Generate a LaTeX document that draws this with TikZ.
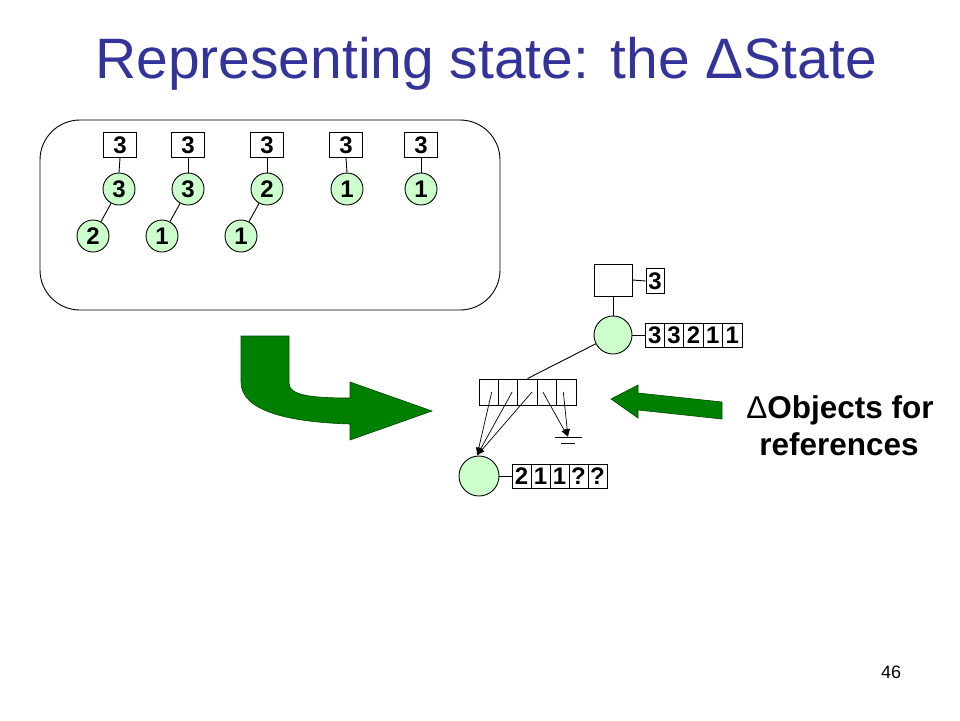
\documentclass[tikz,border=0pt]{standalone}
\usepackage{fontspec}
\setmainfont{Liberation Sans}
\usetikzlibrary{arrows.meta}
\definecolor{titleblue}{RGB}{51,51,153}
\definecolor{nodegreen}{RGB}{204,255,204}
\definecolor{arrowgreen}{RGB}{0,128,0}
\definecolor{arrowedge}{RGB}{0,70,0}
\begin{document}
\begin{tikzpicture}[x=1pt,y=-1pt,line width=0.9pt,
  numbox/.style={draw,rectangle,inner sep=0pt,minimum width=33pt,minimum height=25pt,font=\fontsize{24}{24}\selectfont\bfseries},
  treenode/.style={draw,circle,fill=nodegreen,inner sep=0pt,minimum size=32pt,font=\fontsize{24}{24}\selectfont\bfseries},
  cellbox/.style={draw,rectangle,inner sep=0pt,minimum width=19.4pt,minimum height=24pt,font=\fontsize{24}{24}\selectfont\bfseries},
  bigarrow/.style={fill=arrowgreen,draw=arrowedge,line width=0.6pt},
  ptr/.style={-{Latex[length=8pt,width=6pt]},line width=0.7pt}]
\useasboundingbox (0,0) rectangle (960,720);
% title
\node[anchor=base,text=titleblue,font=\fontsize{57}{57}\selectfont,inner sep=0pt] (title) at (486,78) {Representing state: the ΔState};
% rounded frame
\draw[rounded corners=40pt] (40,120) rectangle (500,310);
% top trees
\foreach \i/\x/\cx/\v in {1/120/119/3,2/188/188/3,3/267/267/2,4/346/347/1,5/421/421/1}{
  \node[numbox] (b\i) at (\x,145) {3};
  \node[treenode] (c\i) at (\cx,189) {\v};
  \draw (b\i.south) -- (c\i.north);
}
\node[treenode] (d1) at (93,236) {2};
\node[treenode] (d2) at (162,236) {1};
\node[treenode] (d3) at (241,236) {1};
\draw (c1) -- (d1);
\draw (c2) -- (d2);
\draw (c3) -- (d3);
% bent arrow
\path[bigarrow] (241,336) -- (289,336) -- (289,383)
  .. controls (289,394) and (305,398) .. (350,398)
  -- (350,382) -- (432,411) -- (350,440) -- (350,424)
  .. controls (285,422) and (241,410) .. (241,382) -- cycle;
% upper structure
\node[draw,rectangle,minimum width=38pt,minimum height=32pt,inner sep=0pt] (sq) at (613,280) {};
\node[numbox,minimum width=18pt] (s3) at (655,281) {3};
\draw (sq.east) -- (s3.west);
\node[treenode,minimum size=38pt] (m) at (613,335) {};
\draw (sq.south) -- (m.north);
\foreach \i/\v in {1/3,2/3,3/2,4/1,5/1}{
  \node[cellbox] (a\i) at ({645+9.7+19.4*(\i-1)},335) {\v};
}
\draw (m.east) -- (a1.west);
% lower array of references
\foreach \i in {1,...,5}{
  \node[cellbox,minimum height=26pt] (l\i) at ({479+9.7+19.4*(\i-1)},392) {};
}
\draw (m) -- (l3.north);
% lower node
\node[treenode,minimum size=40pt] (n) at (479,476) {};
\foreach \i/\v in {1/2,2/1,3/1,4/?,5/?}{
  \node[cellbox,minimum width=19pt] (q\i) at ({512+9.5+19*(\i-1)},476) {\v};
}
\draw (n.east) -- (q1.west);
% null / ground
\coordinate (g) at (568,437);
\draw (555,437) -- (582,437);
\draw (561,443) -- (575,443);
% pointers
\coordinate (ntop) at ([xshift=-2pt]n.north);
\draw[ptr] ([xshift=3pt]l1.center) -- (ntop);
\draw[ptr] ([xshift=4pt]l2.center) -- (ntop);
\draw[ptr] ([xshift=4.5pt]l3.center) -- (ntop);
\draw[ptr] ([xshift=-4pt]l4.center) -- (g);
\draw[ptr] ([xshift=-3pt]l5.center) -- (g);
% left arrow
\path[bigarrow] (611,399) -- (638,385) -- (638,393) -- (722,402) -- (722,419) -- (638,410) -- (638,418) -- cycle;
% label
\node[anchor=base,font=\fontsize{31.5}{31.5}\selectfont\bfseries,inner sep=0pt] (lab1) at (840,418) {{\mdseries Δ}Objects for};
\node[anchor=base,font=\fontsize{31.5}{31.5}\selectfont\bfseries,inner sep=0pt] (lab2) at (839,455) {references};
% page number
\node[anchor=base,font=\fontsize{18}{18}\selectfont,inner sep=0pt] (pg) at (891,678) {46};
\end{tikzpicture}
\end{document}
